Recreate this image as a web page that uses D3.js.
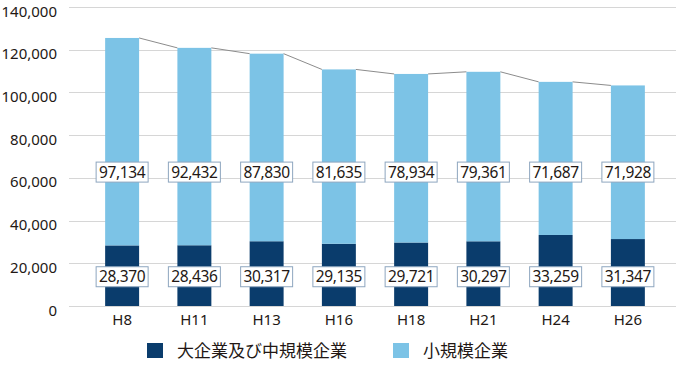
<!DOCTYPE html>
<html><head><meta charset="utf-8">
<script src="https://cdn.jsdelivr.net/npm/d3@7/dist/d3.min.js"></script>
<style>body{margin:0;background:#fff;}svg{display:block;}</style>
</head><body>
<svg id="c" width="689" height="365"></svg>
<script>
const categories = ["H8","H11","H13","H16","H18","H21","H24","H26"];
const largeMedium = [28370,28436,30317,29135,29721,30297,33259,31347];
const small = [97134,92432,87830,81635,78934,79361,71687,71928];
const yTicks = [0,20000,40000,60000,80000,100000,120000,140000];
const seriesNames = ["大企業及び中規模企業","小規模企業"];
const colors = ["#0a3c6c","#7cc3e6"];

const svg = d3.select("#c");
const font = "'Noto Sans', 'Noto Sans CJK JP', sans-serif";
const y = d3.scaleLinear().domain([0,140000]).range([306,7]);
const x = d3.scaleBand().domain(categories).range([86,664]).paddingInner(0.53).paddingOuter(0.265);

// grid
svg.append("g").selectAll("line").data(yTicks).join("line")
  .attr("x1",69).attr("x2",676)
  .attr("y1",d=>Math.round(y(d))+0.5).attr("y2",d=>Math.round(y(d))+0.5)
  .attr("stroke","#d6d6d6").attr("stroke-width",1);

// y labels
svg.append("g").selectAll("text").data(yTicks).join("text")
  .attr("x",57).attr("y",d=>y(d)+9.5).attr("text-anchor","end")
  .attr("font-family",font).attr("font-size",15).attr("fill","#231815")
  .text(d=>d3.format(",")(d));

const data = categories.map((c,i)=>({c, a:largeMedium[i], b:small[i]}));

// bars
const g = svg.append("g");
g.selectAll("rect.a").data(data).join("rect")
  .attr("x",d=>x(d.c)).attr("width",x.bandwidth())
  .attr("y",d=>y(d.a)).attr("height",d=>y(0)-y(d.a)).attr("fill",colors[0]);
g.selectAll("rect.b").data(data).join("rect")
  .attr("x",d=>x(d.c)).attr("width",x.bandwidth())
  .attr("y",d=>y(d.a+d.b)).attr("height",d=>y(d.a)-y(d.a+d.b)).attr("fill",colors[1]);

// series lines
for(let i=0;i<data.length-1;i++){
  svg.append("line")
    .attr("x1",x(data[i].c)+x.bandwidth()).attr("y1",y(data[i].a+data[i].b))
    .attr("x2",x(data[i+1].c)).attr("y2",y(data[i+1].a+data[i+1].b))
    .attr("stroke","#8c8c8c").attr("stroke-width",1);
}

// labels
function labels(vals, atValue){
  const lg = svg.append("g");
  vals.forEach((v,i)=>{
    const cx = x(categories[i]) + x.bandwidth()/2;
    const cy = y(atValue);
    lg.append("rect").attr("x",cx-26).attr("y",cy-10).attr("width",52).attr("height",20)
      .attr("fill","#fff").attr("stroke","#8ea6bf").attr("stroke-width",1);
    lg.append("text").attr("x",cx).attr("y",cy+5.5).attr("text-anchor","middle")
      .attr("font-family",font).attr("font-size",15.5).attr("letter-spacing",-0.4).attr("fill","#231815")
      .text(d3.format(",")(v));
  });
}
labels(small, 62700);
labels(largeMedium, 13700);

// x labels
svg.append("g").selectAll("text").data(categories).join("text")
  .attr("x",d=>x(d)+x.bandwidth()/2).attr("y",325).attr("text-anchor","middle")
  .attr("font-family",font).attr("font-size",15).attr("fill","#231815").text(d=>d);

// legend
const leg = [{x:147,tx:177},{x:393,tx:423}];
seriesNames.forEach((n,i)=>{
  svg.append("rect").attr("x",leg[i].x).attr("y",343).attr("width",16).attr("height",15).attr("fill",colors[i]);
  svg.append("text").attr("x",leg[i].tx).attr("y",356.5)
    .attr("font-family",font).attr("font-size",17).attr("fill","#231815").text(n);
});
</script>
</body></html>
